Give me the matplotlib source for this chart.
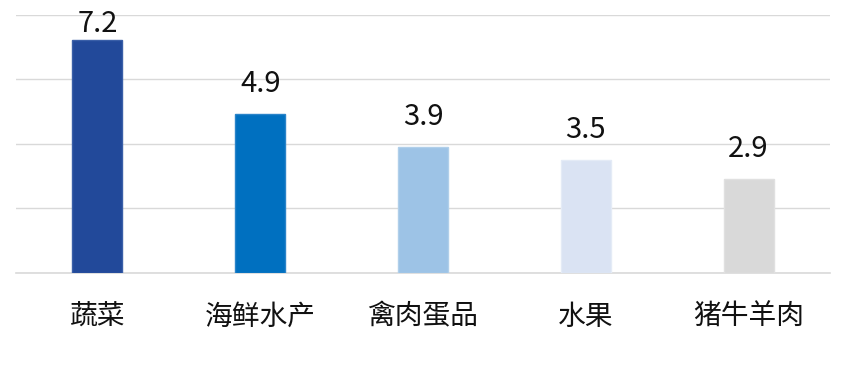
import matplotlib
matplotlib.use("Agg")
import matplotlib.pyplot as plt

categories = ["蔬菜", "海鲜水产", "禽肉蛋品", "水果", "猪牛羊肉"]
values = [7.2, 4.9, 3.9, 3.5, 2.9]
colors = ["#22499A", "#0070C0", "#9DC3E6", "#DAE3F3", "#D9D9D9"]
edge_colors = ["#3A5FA8", "#2A84C9", "#B0CFEA", "#E4EBF6", "#E0E0E0"]

plt.rcParams['font.family'] = ['Noto Sans CJK SC', 'DejaVu Sans']

fig = plt.figure(figsize=(8.56, 3.81), dpi=100)
ax = fig.add_axes([16/856, 108.5/381, 814/856, 258/381])

ymax = 8
px_per_unit = 258 / ymax
label_gap = 30 / px_per_unit          # label centre above bar top
label_cap = ymax - 9 / px_per_unit    # keep labels inside the chart area

x = range(len(categories))
bars = ax.bar(x, values, width=0.307, color=colors, edgecolor=edge_colors, linewidth=1, zorder=3)
for xi, v in zip(x, values):
    ax.text(xi, min(v + label_gap, label_cap), f"{v}", ha="center", va="center",
            fontsize=21, color="#111111", zorder=4)

ax.set_xlim(-0.5, len(categories) - 0.5)
ax.set_ylim(0, ymax)
ax.set_yticks([0, 2, 4, 6, 8])
ax.yaxis.grid(True, color="#D9D9D9", linewidth=1, zorder=0)
ax.set_yticklabels([])
ax.tick_params(axis='y', length=0)
ax.tick_params(axis='x', length=0, pad=21, labelsize=20, labelcolor="#111111")
ax.set_xticks(list(x))
ax.set_xticklabels(categories)
for s in ["top", "right", "left"]:
    ax.spines[s].set_visible(False)
ax.spines["bottom"].set_color("#D9D9D9")
ax.spines["bottom"].set_linewidth(1.2)

fig.savefig("out.png", dpi=100)
